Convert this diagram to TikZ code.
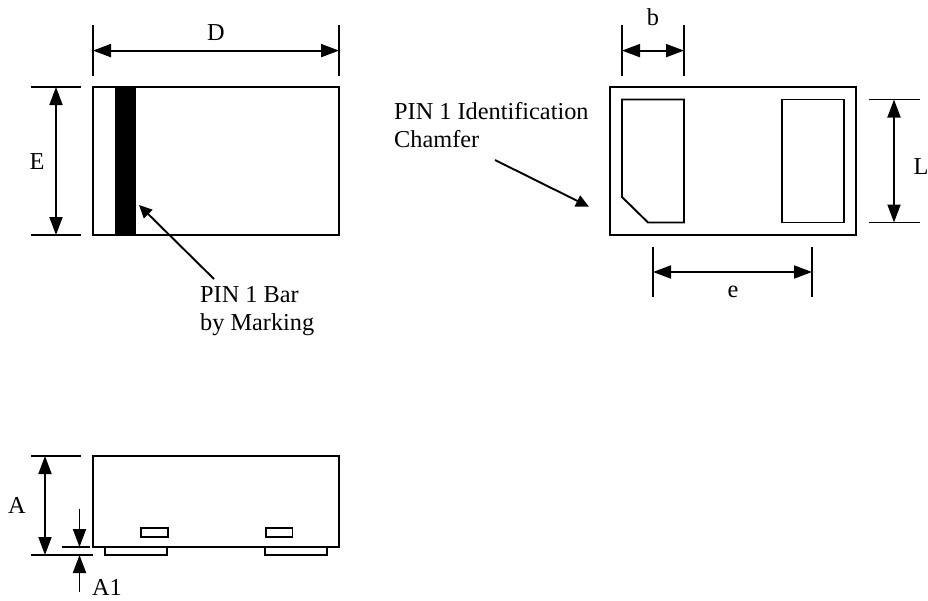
\documentclass[tikz,border=0pt]{standalone}
\usepackage{fontspec}
\setmainfont{Liberation Serif}
\usetikzlibrary{arrows.meta}
\tikzset{
  x=1pt,y=-1pt,
  outline/.style={draw=black,line width=1.9pt,line join=miter},
  extline/.style={draw=black,line width=1.9pt},
  dimline/.style={draw=black,line width=1.9pt,{Triangle[length=18pt,width=13pt]}-{Triangle[length=18pt,width=13pt]}},
  oneway/.style={draw=black,line width=1.9pt,-{Triangle[length=18pt,width=13pt]}},
  leader/.style={draw=black,line width=1.9pt,-{Triangle[length=13pt,width=12pt]}},
  lbl/.style={inner sep=0pt,font=\fontsize{24.3}{29}\selectfont,text=black},
  lbll/.style={lbl,anchor=base west,align=left},
}
\begin{document}
\begin{tikzpicture}
\useasboundingbox (0,0) rectangle (928,600);
\fill[white] (0,0) rectangle (928,600);
% top left
\node[outline,minimum width=246pt,minimum height=148pt,inner sep=0pt,outer sep=0pt,anchor=north west] (body1) at (93,87) {};
\fill[black] (115,87) rectangle (135.5,235);
\coordinate (dl1) at (93,25); \coordinate (dl2) at (93,76);
\coordinate (dr1) at (339,25); \coordinate (dr2) at (339,76);
\draw[extline] (dl1) -- (dl2);
\draw[extline] (dr1) -- (dr2);
\coordinate (da) at (93,50.6); \coordinate (db) at (339,50.6);
\draw[dimline] (da) -- (db);
\node[lbl] (D) at (216,33) {D};
\coordinate (et1) at (31,87); \coordinate (et2) at (81,87);
\coordinate (eb1) at (31,235); \coordinate (eb2) at (81,235);
\draw[extline] (et1) -- (et2);
\draw[extline] (eb1) -- (eb2);
\coordinate (ea) at (56,87); \coordinate (eb) at (56,235);
\draw[dimline] (ea) -- (eb);
\node[lbl] (E) at (37,162) {E};
\coordinate (l1s) at (214,279); \coordinate (l1e) at (139,205);
\draw[leader] (l1s) -- (l1e);
\node[lbll] (bar1) at (200,302) {PIN 1 Bar};
\node[lbll] (bar2) at (200,330) {by Marking};
% top right
\node[outline,minimum width=246pt,minimum height=148pt,inner sep=0pt,outer sep=0pt,anchor=north west] (body2) at (610,87) {};
\draw[outline] (622,99.5) -- (684,99.5) -- (684,222.5) -- (648,222.5) -- (622,197) -- cycle;
\draw[outline] (782,99.5) rectangle (844,222.5);
\coordinate (bl1) at (622,25); \coordinate (bl2) at (622,76);
\coordinate (br1) at (684,25); \coordinate (br2) at (684,76);
\draw[extline] (bl1) -- (bl2);
\draw[extline] (br1) -- (br2);
\coordinate (ba) at (622,50.6); \coordinate (bb) at (684,50.6);
\draw[dimline] (ba) -- (bb);
\node[lbl] (b) at (653,17) {b};
\coordinate (lt1) at (869,99.5); \coordinate (lt2) at (920,99.5);
\coordinate (lb1) at (869,222.5); \coordinate (lb2) at (920,222.5);
\draw[extline] (lt1) -- (lt2);
\draw[extline] (lb1) -- (lb2);
\coordinate (la) at (894,99.5); \coordinate (lb) at (894,222.5);
\draw[dimline] (la) -- (lb);
\node[lbl] (L) at (921,167) {L};
\coordinate (el1) at (653,247); \coordinate (el2) at (653,297);
\coordinate (er1) at (812,247); \coordinate (er2) at (812,297);
\draw[extline] (el1) -- (el2);
\draw[extline] (er1) -- (er2);
\coordinate (ee1) at (653,272); \coordinate (ee2) at (812,272);
\draw[dimline] (ee1) -- (ee2);
\node[lbl] (e) at (733,292) {e};
\coordinate (l2s) at (495,160); \coordinate (l2e) at (589,206.7);
\draw[leader] (l2s) -- (l2e);
\node[lbll] (pin1) at (394,119) {PIN 1 Identification};
\node[lbll] (pin2) at (394,147.5) {Chamfer};
% bottom
\node[outline,minimum width=246pt,minimum height=91pt,inner sep=0pt,outer sep=0pt,anchor=north west] (body3) at (93,456) {};
\draw[outline] (105,547) -- (105,555) -- (167,555) -- (167,547);
\draw[outline] (265,547) -- (265,555) -- (327,555) -- (327,547);
\draw[outline] (141,527.7) rectangle (168,537.3);
\draw[outline] (265.7,527.7) rectangle (292.5,537.3);
\coordinate (at1) at (31,456); \coordinate (at2) at (81,456);
\coordinate (ab1) at (31,555); \coordinate (ab2) at (93,555);
\draw[extline] (at1) -- (at2);
\draw[extline] (ab1) -- (ab2);
\coordinate (aa) at (45,456); \coordinate (ab) at (45,555);
\draw[dimline] (aa) -- (ab);
\node[lbl] (A) at (17,505) {A};
\coordinate (s1) at (62,547); \coordinate (s2) at (90,547);
\draw[extline] (s1) -- (s2);
\coordinate (d1) at (79.5,509); \coordinate (d2) at (79.5,547);
\draw[oneway] (d1) -- (d2);
\coordinate (u1) at (79.5,592); \coordinate (u2) at (79.5,555);
\draw[oneway] (u1) -- (u2);
\node[lbll] (A1) at (92,595.5) {A1};
\end{tikzpicture}
\end{document}
